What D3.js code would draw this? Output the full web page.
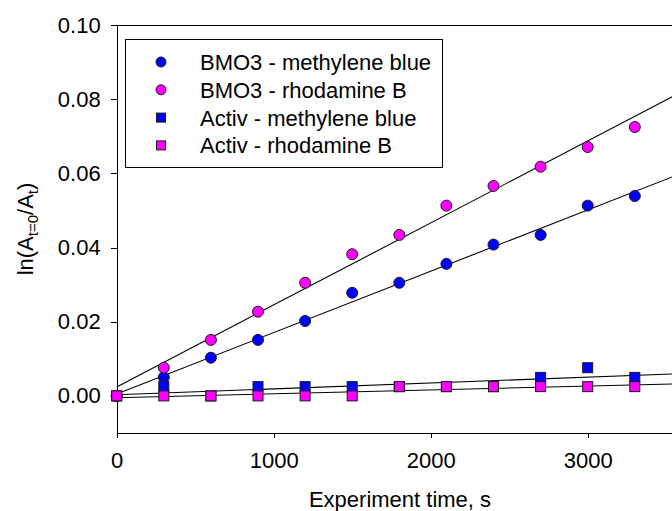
<!DOCTYPE html>
<html>
<head>
<meta charset="utf-8">
<script src="https://cdn.jsdelivr.net/npm/d3@7"></script>
<style>
  body { margin: 0; background: #fff; }
  svg { display: block; font-family: "Liberation Sans", Arial, sans-serif; }
  .axis path, .axis line { stroke: #000; shape-rendering: crispEdges; }
  .axis text { font-size: 22px; fill: #000; }
  .fit { fill: none; stroke: #000; stroke-width: 1.1; }
</style>
</head>
<body>
<svg id="chart" width="672" height="511"></svg>
<script>
// experiment time points, s
const times = [0, 300, 600, 900, 1200, 1500, 1800, 2100, 2400, 2700, 3000, 3300];

// ln(A0/At)
const bmoMethylene = [0, 0.0050, 0.0103, 0.0151, 0.0202, 0.0278, 0.0305, 0.0356, 0.0408, 0.0434, 0.0513, 0.0539];
const bmoRhodamine = [0, 0.0076, 0.0151, 0.0227, 0.0305, 0.0382, 0.0434, 0.0513, 0.0566, 0.0618, 0.0671, 0.0725];
const activMethylene = [0, 0.0025, 0, 0.0025, 0.0025, 0.0025, 0.0025, 0.0025, 0.0025, 0.0050, 0.0076, 0.0050];
const activRhodamine = [0, 0, 0, 0, 0, 0, 0.0025, 0.0025, 0.0025, 0.0025, 0.0025, 0.0025];

const seriesNames = ["BMO3 - methylene blue", "BMO3 - rhodamine B", "Activ - methylene blue", "Activ - rhodamine B"];
const xTicks = [0, 1000, 2000, 3000];
const yTicks = [0.00, 0.02, 0.04, 0.06, 0.08, 0.10];

const series = [
  {name: seriesNames[0], values: bmoMethylene, shape: "circle", color: "#0000ff"},
  {name: seriesNames[1], values: bmoRhodamine, shape: "circle", color: "#ff00ff"},
  {name: seriesNames[2], values: activMethylene, shape: "square", color: "#0000ff"},
  {name: seriesNames[3], values: activRhodamine, shape: "square", color: "#ff00ff"}
];

const svg = d3.select("#chart");
const margin = {left: 116.7, top: 25, bottom: 433};

const x = d3.scaleLinear().domain([0, 4000]).range([margin.left, margin.left + 628]);
const y = d3.scaleLinear().domain([-0.01, 0.10]).range([margin.bottom, margin.top]);

// least squares fit for each series
const fit = function(xs, ys) {
  const mx = d3.mean(xs), my = d3.mean(ys);
  let sxy = 0, sxx = 0;
  xs.forEach((xv, i) => {
    sxy += (xv - mx) * (ys[i] - my);
    sxx += (xv - mx) * (xv - mx);
  });
  const slope = sxy / sxx;
  return {slope: slope, icpt: my - slope * mx};
};

// frame: top line (right side runs off the picture)
svg.append("line")
  .attr("x1", x(0)).attr("x2", x(4000))
  .attr("y1", y(0.10)).attr("y2", y(0.10))
  .attr("stroke", "#000")
  .style("shape-rendering", "crispEdges");

const xAxis = d3.axisBottom(x)
  .tickValues(xTicks)
  .tickFormat(d3.format("d"))
  .tickSize(5)
  .tickPadding(14)
  .tickSizeOuter(0);

svg.append("g")
  .attr("class", "axis")
  .attr("transform", `translate(0, ${margin.bottom})`)
  .call(xAxis);

const yAxis = d3.axisLeft(y)
  .tickValues(yTicks)
  .tickFormat(d3.format(".2f"))
  .tickSize(6)
  .tickPadding(10)
  .tickSizeOuter(0);

svg.append("g")
  .attr("class", "axis")
  .attr("transform", `translate(${margin.left}, 0)`)
  .call(yAxis);

// regression lines
const plot = svg.append("g");
series.forEach(s => {
  const f = fit(times, s.values);
  plot.append("line")
    .attr("class", "fit")
    .attr("x1", x(0)).attr("y1", y(f.icpt))
    .attr("x2", x(4000)).attr("y2", y(f.icpt + f.slope * 4000));
});

const drawMarker = function(g, shape, color, cx, cy, size) {
  if (shape === "circle") {
    g.append("circle")
      .attr("cx", cx).attr("cy", cy).attr("r", size / 2)
      .attr("fill", color).attr("stroke", "#1a1a1a").attr("stroke-width", 1);
  } else {
    g.append("rect")
      .attr("x", cx - size / 2).attr("y", cy - size / 2)
      .attr("width", size).attr("height", size)
      .attr("fill", color).attr("stroke", "#1a1a1a").attr("stroke-width", 1);
  }
};

series.forEach(s => {
  const g = plot.append("g");
  s.values.forEach((v, i) => {
    drawMarker(g, s.shape, s.color, x(times[i]), y(v), s.shape === "circle" ? 11 : 10);
  });
});

// legend
const legend = svg.append("g");
legend.append("rect")
  .attr("x", 125.5).attr("y", 39.5)
  .attr("width", 317).attr("height", 128)
  .attr("fill", "#fff").attr("stroke", "#000").attr("stroke-width", 1);

series.forEach((s, i) => {
  const ry = 62 + i * 27.8;
  drawMarker(legend, s.shape, s.color, 161, ry, s.shape === "circle" ? 10 : 9);
  legend.append("text")
    .attr("x", 200).attr("y", ry + 8)
    .attr("font-size", 22)
    .text(s.name);
});

// axis titles
svg.append("text")
  .attr("x", 400).attr("y", 507)
  .attr("text-anchor", "middle")
  .attr("font-size", 22)
  .text("Experiment time, s");

const yTitle = svg.append("text")
  .attr("transform", "translate(33, 229) rotate(-90)")
  .attr("text-anchor", "middle")
  .attr("font-size", 22);
yTitle.append("tspan").text("ln(A");
yTitle.append("tspan").attr("font-size", 15).attr("dy", 5).text("t=0");
yTitle.append("tspan").attr("dy", -5).text("/A");
yTitle.append("tspan").attr("font-size", 15).attr("dy", 5).text("t");
yTitle.append("tspan").attr("dy", -5).text(")");
</script>
</body>
</html>
